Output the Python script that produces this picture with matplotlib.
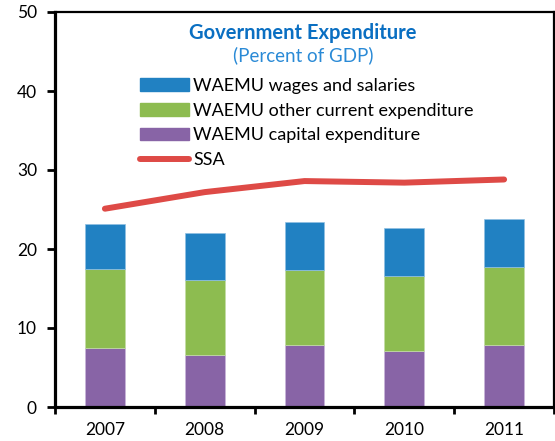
import numpy as np
import matplotlib
matplotlib.use("Agg")
import matplotlib.pyplot as plt
from matplotlib.patches import Patch
from matplotlib.lines import Line2D

years = ["2007", "2008", "2009", "2010", "2011"]
capital = [7.5, 6.6, 7.8, 7.1, 7.8]
other_current = [10.0, 9.5, 9.5, 9.5, 9.9]
wages = [5.7, 5.9, 6.1, 6.1, 6.1]
ssa = [25.1, 27.2, 28.6, 28.4, 28.8]

C_WAGE, C_OTHER, C_CAP, C_SSA = "#2181C2", "#8DBC50", "#8864A6", "#DE4A46"

plt.rcParams["font.family"] = ["Lato", "DejaVu Sans"]

W, H = 555, 441
fig = plt.figure(figsize=(W / 100, H / 100), dpi=100)
ax = fig.add_axes([55 / W, 1 - 407 / H, (554 - 55) / W, (407 - 12) / H])

x = np.arange(len(years))
bw = 0.4
ax.bar(x, capital, bw, color=C_CAP, edgecolor="#c9b6da", lw=0.5, zorder=2)
ax.bar(x, other_current, bw, bottom=capital, color=C_OTHER, edgecolor="#c4dca6", lw=0.5, zorder=2)
bot2 = np.add(capital, other_current)
ax.bar(x, wages, bw, bottom=bot2, color=C_WAGE, edgecolor="#8fc0e2", lw=0.5, zorder=2)
ax.plot(x, ssa, color=C_SSA, lw=4.3, solid_capstyle="round", zorder=3)

ax.set_xlim(-0.5, 4.5)
ax.set_ylim(0, 50)
ax.set_yticks([0, 10, 20, 30, 40, 50])
ax.tick_params(axis="y", length=6, width=2, labelsize=12.5, pad=7, colors="black")

# boundary ticks on x, labels centred under the bars
ax.set_xticks(np.arange(-0.5, 5, 1.0))
ax.set_xticklabels([])
ax.tick_params(axis="x", which="major", length=5, width=2, direction="out")
ax.set_xticks(x, minor=True)
ax.set_xticklabels(years, minor=True)
ax.tick_params(axis="x", which="minor", length=0, labelsize=12.5, pad=11)

for s in ("left", "bottom"):
    ax.spines[s].set_linewidth(2.3)
for s in ("top", "right"):
    ax.spines[s].set_linewidth(1.6)

fig.text(303 / W, 1 - 33 / H, "Government Expenditure", color="#0A6FC2",
         fontsize=14.5, fontweight="bold", ha="center", va="center")
fig.text(303 / W, 1 - 55 / H, "(Percent of GDP)", color="#2A8AD6",
         fontsize=13.5, ha="center", va="center")

handles = [Patch(color=C_WAGE), Patch(color=C_OTHER), Patch(color=C_CAP),
           Line2D([], [], color=C_SSA, lw=4.3, solid_capstyle="round")]
labels = ["WAEMU wages and salaries", "WAEMU other current expenditure",
          "WAEMU capital expenditure", "SSA"]
fig.legend(handles, labels, loc="upper left", bbox_to_anchor=(140 / W, 1 - 78 / H),
           frameon=False, fontsize=13, handlelength=2.7, handleheight=0.7,
           handletextpad=0.25, labelspacing=0.48, borderaxespad=0, borderpad=0)

fig.savefig("out.png", dpi=100)
